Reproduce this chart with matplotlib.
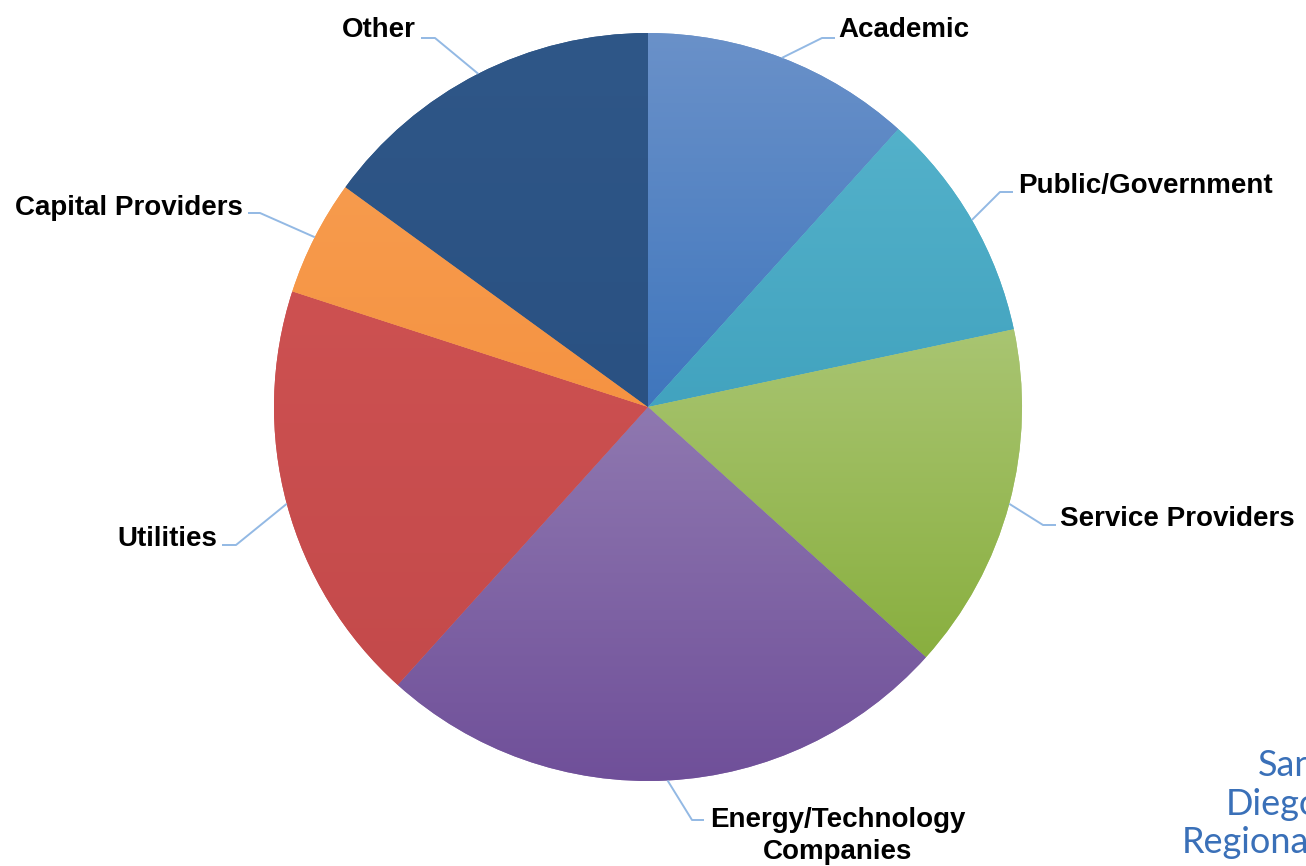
import matplotlib.pyplot as plt
import numpy as np
from matplotlib.colors import LinearSegmentedColormap

plt.rcParams["font.family"] = ["Liberation Sans", "DejaVu Sans"]

W, H = 1306, 866

# respondent counts per sector (clockwise from 12 o'clock)
sectors = ["Academic", "Public/Government", "Service Providers",
           "Energy/Technology\nCompanies", "Utilities", "Capital Providers", "Other"]
counts = [7, 6, 9, 15, 11, 3, 9]

# (top, bottom) gradient colours per slice
shades = [
    ("#6a91c9", "#3f76bd"),
    ("#53b1ca", "#42a3bf"),
    ("#a9c572", "#89af3f"),
    ("#8f78b0", "#6f4f99"),
    ("#cd5151", "#c44a4b"),
    ("#f79b4d", "#f59342"),
    ("#2f5788", "#2a5182"),
]

# label layout in pixel coords: elbow x, elbow y, end x, text x, text y (last baseline), align
layout = [
    (822, 38, 835, 838, 37, "left"),
    (1000, 192, 1013, 1018, 193, "left"),
    (1043, 525, 1056, 1060, 526, "left"),
    (692, 820, 704, 838, 859, "center"),
    (236, 545, 222, 217, 546, "right"),
    (260, 213, 248, 243, 215, "right"),
    (435, 38, 421, 416, 37, "right"),
]

cx, cy, r = 648, H - 407, 374

fig = plt.figure(figsize=(W / 100, H / 100), dpi=100)
ax = fig.add_axes([0, 0, 1, 1])

wedges, _ = ax.pie(counts, startangle=90, counterclock=False, center=(cx, cy),
                   radius=r, colors=[s[0] for s in shades],
                   wedgeprops=dict(linewidth=0))

for w, (top, bot) in zip(wedges, shades):
    verts = w.get_path().vertices
    y0, y1 = verts[:, 1].min(), verts[:, 1].max()
    cmap = LinearSegmentedColormap.from_list("g", [bot, top])
    grad = np.linspace(0, 1, 256).reshape(-1, 1)
    im = ax.imshow(grad, extent=(cx - r, cx + r, y0, y1), origin="lower",
                   cmap=cmap, aspect="auto", zorder=w.get_zorder() + 0.1,
                   interpolation="bilinear")
    im.set_clip_path(w)

for w, label, (ex, ey, endx, tx, ty, ha) in zip(wedges, sectors, layout):
    mid = np.deg2rad((w.theta1 + w.theta2) / 2)
    sx, sy = cx + r * np.cos(mid), cy + r * np.sin(mid)
    ax.plot([sx, ex, endx], [sy, H - ey, H - ey], color="#93b9e4", lw=1.4,
            zorder=5, solid_capstyle="butt")
    ax.text(tx, H - ty, label, ha=ha, va="baseline", fontsize=20,
            fontweight="bold", color="black", linespacing=1.3,
            multialignment="center")

# cropped watermark in the lower right corner
brand = ["San", "Diego", "Regional"]
brand_x = [1258, 1226, 1182]
brand_y = [776, 815, 853]
for word, bx, by in zip(brand, brand_x, brand_y):
    ax.text(bx, H - by, word, ha="left", va="baseline", fontsize=26,
            family=["Lato", "DejaVu Sans"], fontweight="normal", color="#3a70b8")

ax.set_xlim(0, W)
ax.set_ylim(0, H)
ax.set_aspect("equal")
ax.axis("off")

plt.savefig("out.png", dpi=100)
plt.close()
